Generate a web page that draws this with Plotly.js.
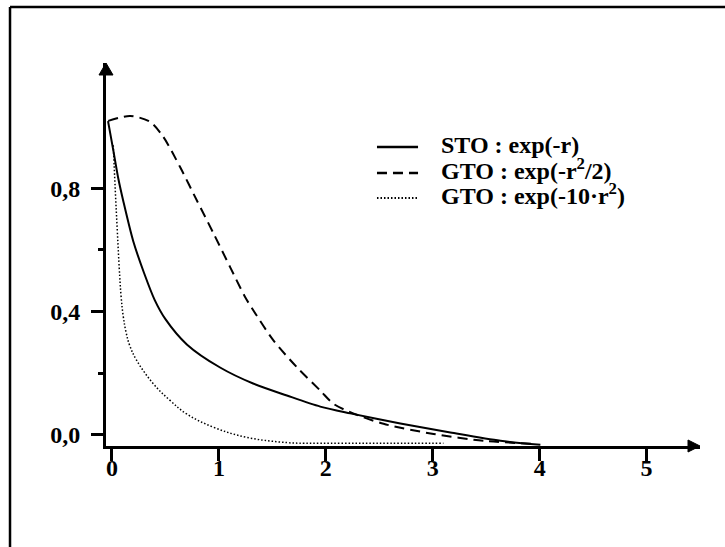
<!DOCTYPE html>
<html>
<head>
<meta charset="utf-8">
<script src="https://cdn.plot.ly/plotly-3.0.1.min.js"></script>
<style>
html,body{margin:0;padding:0;background:#fff;}
#chart{width:725px;height:547px;}
</style>
</head>
<body>
<div id="chart"></div>
<script>
// Values
const stoR = [-0.037, 0.012, 0.060, 0.106, 0.199, 0.300, 0.400, 0.500, 0.700, 1.011, 1.320, 1.636, 1.948, 2.228, 2.697, 3.165, 3.633, 4.007];
const stoV = [1.018, 0.924, 0.830, 0.758, 0.628, 0.525, 0.437, 0.375, 0.293, 0.218, 0.166, 0.127, 0.091, 0.069, 0.036, 0.007, -0.020, -0.033];

const gtoHalfR = [-0.035, 0.169, 0.356, 0.480, 0.637, 0.793, 0.949, 1.105, 1.245, 1.323, 1.510, 1.729, 1.948, 2.072, 2.228, 2.540, 3.008, 3.477, 3.945];
const gtoHalfV = [1.019, 1.035, 1.016, 0.967, 0.869, 0.761, 0.654, 0.544, 0.447, 0.403, 0.306, 0.219, 0.143, 0.100, 0.073, 0.035, 0.002, -0.020, -0.030];

const gtoTenR = [0.012, 0.030, 0.050, 0.068, 0.085, 0.105, 0.130, 0.165, 0.231, 0.387, 0.543, 0.699, 0.949, 1.261, 1.636, 1.800, 2.135, 2.600, 3.100];
const gtoTenV = [0.940, 0.800, 0.660, 0.540, 0.450, 0.385, 0.335, 0.290, 0.241, 0.165, 0.111, 0.067, 0.024, -0.009, -0.026, -0.028, -0.028, -0.028, -0.028];

const xTicks = [0, 1, 2, 3, 4, 5];
const yTicks = [0, 0.4, 0.8];
const yMinorTicks = [0.2, 0.6];
const names = ['STO : exp(-r)', 'GTO : exp(-r<sup>2</sup>/2)', 'GTO : exp(-10·r<sup>2</sup>)'];

const serif = {family: 'Liberation Serif, Times New Roman, serif', color: '#000', weight: 'bold'};

const traceStyles = [
  {color: '#000', width: 2},
  {color: '#000', width: 2, dash: '10px,6px'},
  {color: '#000', width: 1.5, dash: '1.5px,2px'}
];

const traces = [
  {x: stoR, y: stoV, name: names[0], mode: 'lines',
   line: Object.assign({shape: 'spline', smoothing: 0.8}, traceStyles[0])},
  {x: gtoHalfR, y: gtoHalfV, name: names[1], mode: 'lines',
   line: Object.assign({shape: 'spline', smoothing: 0.8}, traceStyles[1])},
  {x: gtoTenR, y: gtoTenV, name: names[2], mode: 'lines',
   line: Object.assign({shape: 'spline', smoothing: 1.1}, traceStyles[2])}
];

// legend drawn as key lines + text (positions in paper units)
const legX0 = 0.4562, legX1 = 0.5253, legTextX = 0.5606;
const legLineY = [0.7807, 0.7128, 0.6475];
const legTextY = [0.7859, 0.7232, 0.6580];

const shapes = [
  // frame (top and left edges)
  {type: 'line', xref: 'paper', yref: 'paper', x0: -0.1616, x1: 1.1, y0: 1.146, y1: 1.146, line: {color: '#000', width: 2.5}},
  {type: 'line', xref: 'paper', yref: 'paper', x0: -0.1616, x1: -0.1616, y0: 1.146, y1: -0.3, line: {color: '#000', width: 2.5}},
  // arrowheads
  {type: 'path', xref: 'paper', yref: 'paper', path: 'M 0 1 L -0.0118 0.9687 L 0.0118 0.9687 Z', fillcolor: '#000', line: {color: '#000', width: 1}},
  {type: 'path', xref: 'paper', yref: 'paper', path: 'M 1 0 L 0.9798 0.0157 L 0.9798 -0.0157 Z', fillcolor: '#000', line: {color: '#000', width: 1}}
];
const annotations = [];
names.forEach((n, i) => {
  const st = traceStyles[i];
  shapes.push({type: 'line', xref: 'paper', yref: 'paper', x0: legX0, x1: legX1, y0: legLineY[i], y1: legLineY[i],
    line: {color: st.color, width: i === 0 ? 2.5 : st.width + 0.5, dash: st.dash || 'solid'}});
  annotations.push({xref: 'paper', yref: 'paper', x: legTextX, y: legTextY[i], xanchor: 'left', yanchor: 'middle',
    showarrow: false, text: n, font: Object.assign({size: 24}, serif)});
});

const layout = {
  width: 725, height: 547,
  margin: {l: 106, r: 25, t: 63, b: 101},
  paper_bgcolor: '#fff', plot_bgcolor: '#fff',
  separators: ',.',
  showlegend: false,
  xaxis: {
    range: [-0.056, 5.5],
    tickmode: 'array', tickvals: xTicks,
    ticks: 'outside', ticklen: 12, tickwidth: 3, tickcolor: '#000',
    ticklabelstandoff: -14,
    showline: true, linecolor: '#000', linewidth: 3,
    showgrid: false, zeroline: false,
    tickfont: Object.assign({size: 24}, serif)
  },
  yaxis: {
    range: [-0.037, 1.207],
    tickmode: 'array', tickvals: yTicks, tickformat: '.1f',
    ticks: 'outside', ticklen: 12, tickwidth: 3, tickcolor: '#000',
    ticklabelstandoff: 6,
    minor: {tickmode: 'array', tickvals: yMinorTicks, ticks: 'outside', ticklen: 5, tickwidth: 3, tickcolor: '#000'},
    showline: true, linecolor: '#000', linewidth: 3,
    showgrid: false, zeroline: false,
    tickfont: Object.assign({size: 24}, serif)
  },
  shapes: shapes,
  annotations: annotations
};

Plotly.newPlot('chart', traces, layout, {displayModeBar: false, staticPlot: true});
</script>
</body>
</html>
